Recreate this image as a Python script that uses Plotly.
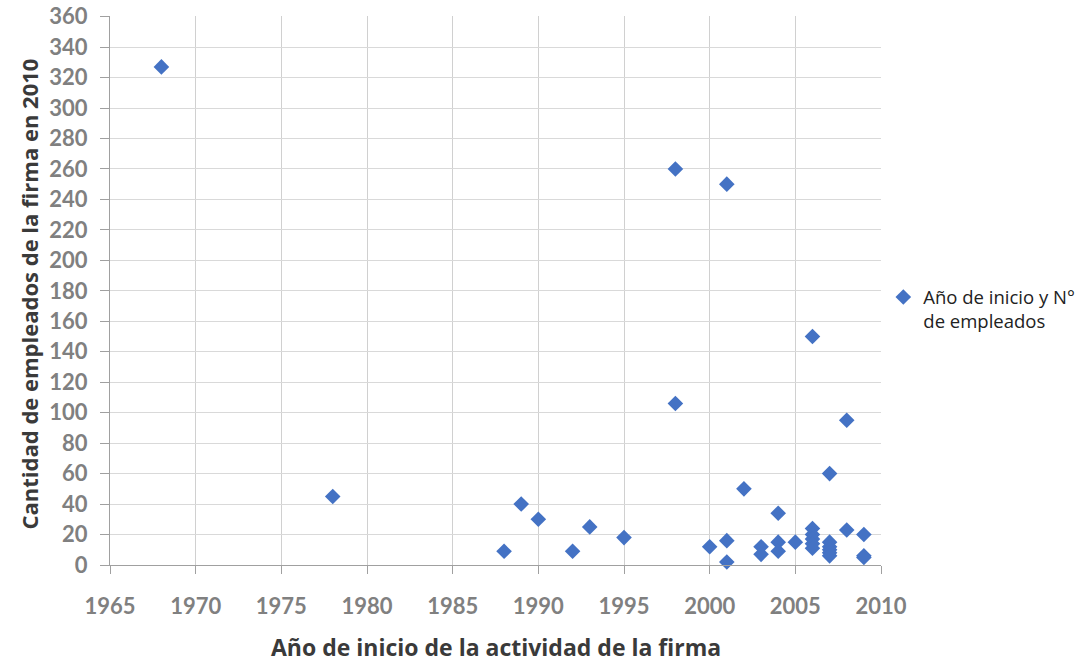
import plotly.graph_objects as go

years = [1968, 1978, 1988, 1989, 1990, 1992, 1993, 1995,
         1998, 1998, 2000, 2001, 2001, 2001, 2002,
         2003, 2003, 2004, 2004, 2004, 2005,
         2006, 2006, 2006, 2006, 2006, 2006,
         2007, 2007, 2007, 2007, 2007, 2007,
         2008, 2008, 2009, 2009, 2009]
employees = [327, 45, 9, 40, 30, 9, 25, 18,
             260, 106, 12, 250, 16, 2, 50,
             12, 7, 34, 15, 9, 15,
             150, 24, 20, 17, 14, 11,
             60, 15, 12, 10, 8, 6,
             95, 23, 20, 6, 5]

series_name = "Año de inicio y N°<br>de empleados"
x_title = "Año de inicio de la actividad de la firma"
y_title = "Cantidad de empleados de la firma en 2010"

fig = go.Figure()
fig.add_trace(go.Scatter(
    x=years, y=employees, mode="markers", name=series_name,
    marker=dict(symbol="diamond", size=12, color="#4472C4"),
    showlegend=True, cliponaxis=False,
))

tick_font = dict(family="Lato, sans-serif", size=22, color="#808080", weight="bold")
title_font = dict(family="Open Sans, sans-serif", size=23, color="#3a3a3a", weight="bold")

fig.update_layout(
    width=1080, height=663,
    paper_bgcolor="white", plot_bgcolor="white",
    margin=dict(l=110, r=199, t=16, b=98, autoexpand=False),
    font=dict(family="Lato, Open Sans, sans-serif"),
    showlegend=True,
    legend=dict(x=1.003, y=0.522, xanchor="left", yanchor="top", valign="top",
                font=dict(size=18.5, color="#222222", family="Open Sans, sans-serif"),
                itemwidth=30, tracegroupgap=0, bgcolor="rgba(0,0,0,0)"),
    xaxis=dict(range=[1965, 2010], dtick=5, tick0=1965, automargin=False,
               showgrid=True, gridcolor="#d0d0d0", gridwidth=1,
               showline=True, linecolor="#a0a0a0", linewidth=1,
               ticks="outside", ticklen=8, tickcolor="#a0a0a0",
               tickfont=tick_font, ticklabelstandoff=14,
               ticklabeloverflow="allow",
               zeroline=False),
    yaxis=dict(range=[0, 360.4], dtick=20, tick0=0, automargin=False,
               showgrid=True, gridcolor="#d9d9d9", gridwidth=1,
               showline=True, linecolor="#a0a0a0", linewidth=1,
               ticks="outside", ticklen=9, tickcolor="#a0a0a0",
               tickfont=tick_font, ticklabelstandoff=8,
               ticklabeloverflow="allow",
               zeroline=False),
    annotations=[
        dict(text=x_title, xref="paper", yref="paper", x=0.5, y=0,
             xanchor="center", yanchor="middle", yshift=-82, showarrow=False,
             font=title_font),
        dict(text=y_title, xref="paper", yref="paper", x=0, y=0.5,
             xanchor="center", yanchor="middle", xshift=-82, yshift=-4,
             textangle=-90, showarrow=False,
             font=dict(family="Open Sans, sans-serif", size=22, color="#3a3a3a", weight="bold")),
    ],
)

fig.write_html("out.html", config={"displayModeBar": False},
               post_script="document.body.style.margin='0';")
